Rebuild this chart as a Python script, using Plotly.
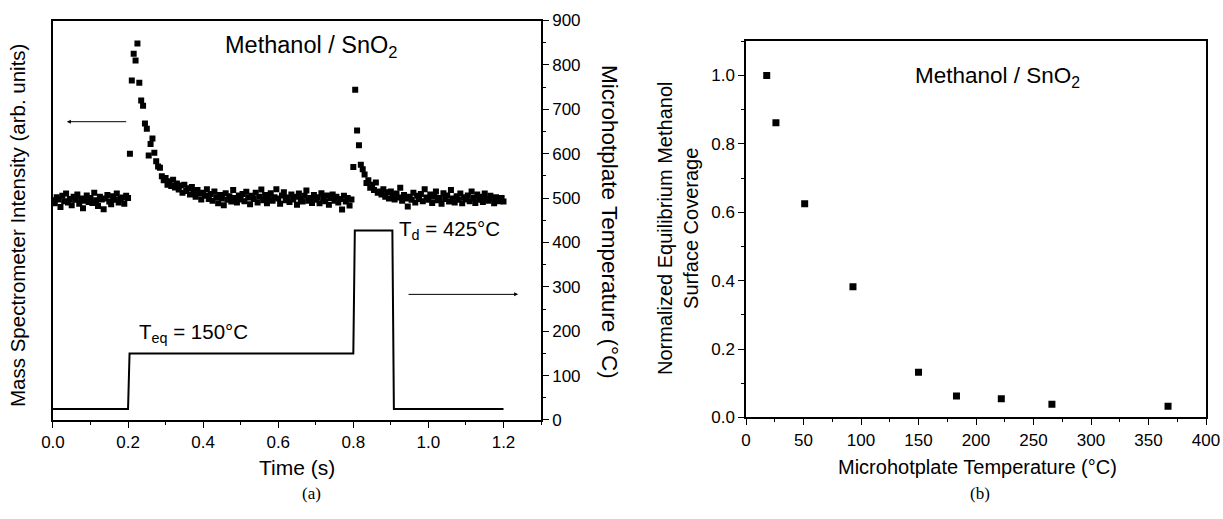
import numpy as np
import plotly.graph_objects as go

# --- (a) mass spectrometer signal, sampled every 5 ms from 0 to 1.2 s
t_step = 0.005
ms_signal = [
    495, 488, 502, 497, 480, 505, 493, 510, 490, 498, 484, 503, 496, 508, 487, 499, 477, 494, 506, 491,
    500, 489, 512, 495, 482, 503, 497, 475, 499, 507, 492, 486, 504, 496, 510, 490, 498, 501, 487, 505,
    500, 600, 765, 825, 810, 848, 760, 720, 708, 668, 656, 596, 622, 634, 602, 583, 571, 568, 549, 540,
    545, 530, 538, 527, 541, 524, 533, 519, 528, 512, 530, 516, 522, 508, 525, 514, 503, 518, 510, 497,
    512, 505, 520, 498, 509, 494, 515, 502, 488, 507, 499, 484, 511, 496, 504, 492, 518, 500, 490, 506,
    497, 509, 493, 514, 501, 486, 505, 498, 512, 490, 503, 519, 495, 507, 488, 500, 511, 494, 502, 520,
    499, 487, 506, 513, 495, 501, 491, 508, 497, 503, 485, 510, 498, 492, 505, 517, 494, 500, 489, 507,
    496, 502, 488, 511, 499, 493, 506, 485, 500, 508, 494, 503, 490, 498, 474, 505, 492, 500, 483, 497,
    570, 744, 652, 619, 575, 565, 553, 534, 540, 523, 530, 518, 535, 512, 515, 508, 520, 503, 513, 499,
    515, 506, 497, 510, 501, 523, 494, 507, 499, 481, 503, 496, 512, 490, 505, 498, 509, 493, 520, 501,
    496, 508, 489, 503, 515, 495, 500, 487, 511, 498, 506, 492, 518, 499, 490, 504, 496, 510, 488, 502,
    497, 506, 493, 515, 500, 489, 508, 496, 503, 491, 510, 498, 494, 505, 499, 488, 502, 496, 493, 500,
    492,
]
ms_time = np.round(np.arange(len(ms_signal)) * t_step, 3)

# --- (a) microhotplate temperature program
temp_time = [0.0, 0.200, 0.204, 0.800, 0.804, 0.904, 0.908, 1.2]
temp_value = [25, 25, 150, 150, 427, 427, 25, 25]

# --- (b) normalized equilibrium coverage vs temperature
cov_temp = [18, 26, 51, 93, 150, 183, 222, 266, 367]
cov_value = [1.0, 0.862, 0.625, 0.382, 0.132, 0.063, 0.055, 0.039, 0.033]

FONT = "Liberation Sans, Arial, sans-serif"
SERIF = "Liberation Serif, Times New Roman, serif"

fig = go.Figure()

fig.add_trace(go.Scatter(
    x=ms_time, y=ms_signal, mode="markers",
    marker=dict(symbol="square", size=6, color="black", line=dict(width=0)),
    xaxis="x", yaxis="y", showlegend=False,
))
fig.add_trace(go.Scatter(
    x=temp_time, y=temp_value, mode="lines",
    line=dict(color="black", width=2),
    xaxis="x", yaxis="y2", showlegend=False,
))
fig.add_trace(go.Scatter(
    x=cov_temp, y=cov_value, mode="markers",
    marker=dict(symbol="square", size=7, color="black", line=dict(width=0)),
    xaxis="x3", yaxis="y3", showlegend=False,
))

axis_common = dict(
    showline=True, linecolor="black", linewidth=1.5, showgrid=False, zeroline=False,
    ticks="outside", ticklen=6, tickwidth=1.2, tickcolor="black", automargin=False,
    tickfont=dict(family=FONT, size=17, color="black"),
)
minor_common = dict(ticks="outside", ticklen=3, tickwidth=1.2, tickcolor="black")

fig.update_layout(
    width=1223, height=519, autosize=False,
    margin=dict(l=0, r=0, t=0, b=0),
    paper_bgcolor="white", plot_bgcolor="white",
    font=dict(family=FONT, color="black"),
    xaxis=dict(axis_common, domain=[0.0433, 0.4424], range=[0, 1.3], dtick=0.2,
               tickformat=".1f", mirror=True, anchor="y",
               minor=dict(minor_common, dtick=0.1)),
    yaxis=dict(showline=True, linecolor="black", linewidth=1.5, showgrid=False,
               zeroline=False, showticklabels=False, ticks="", automargin=False,
               domain=[0.1908, 0.9605], range=[0, 900], anchor="x"),
    yaxis2=dict(axis_common, overlaying="y", side="right", anchor="x",
                range=[0, 900], dtick=100, minor=dict(minor_common, dtick=50)),
    xaxis3=dict(axis_common, domain=[0.61, 0.9861], range=[0, 400], dtick=50,
                mirror=True, anchor="y3", minor=dict(minor_common, dtick=25)),
    yaxis3=dict(axis_common, domain=[0.1956, 0.9204], range=[0, 1.1], dtick=0.2,
                tickformat=".1f", mirror=True, anchor="x3",
                minor=dict(minor_common, dtick=0.1)),
)

ann = [
    # axis titles, panel (a)
    dict(text="Mass Spectrometer Intensity (arb. units)", x=18, y=226, textangle=-90, size=20.5),
    dict(text="Microhotplate Temperature (°C)", x=610, y=222, textangle=90, size=22.5),
    dict(text="Time (s)", x=297, y=467, size=21),
    # axis titles, panel (b)
    dict(text="Normalized Equilibrium Methanol<br>Surface Coverage", x=678, y=229,
         textangle=-90, size=20),
    dict(text="Microhotplate Temperature (°C)", x=977, y=467, size=20),
    # in-plot labels
    dict(text="Methanol / SnO<sub>2</sub>", x=311, y=46, size=23.5),
    dict(text="Methanol / SnO<sub>2</sub>", x=997, y=77, size=22.5),
]
for a in ann:
    fig.add_annotation(
        text=a["text"], xref="paper", yref="paper",
        x=a["x"] / 1223, y=1 - a["y"] / 519, xanchor="center", yanchor="middle",
        textangle=a.get("textangle", 0), showarrow=False,
        font=dict(family=FONT, size=a["size"], color="black"),
    )

fig.add_annotation(text="T<sub>eq</sub> = 150°C", xref="x", yref="y2", x=0.224, y=196,
                   xanchor="left", yanchor="middle", showarrow=False,
                   font=dict(family=FONT, size=20.5, color="black"))
fig.add_annotation(text="T<sub>d</sub> = 425°C", xref="x", yref="y2", x=0.916, y=428,
                   xanchor="left", yanchor="middle", showarrow=False,
                   font=dict(family=FONT, size=20.5, color="black"))

# panel letters
for letter, xc in [("(a)", 311), ("(b)", 980)]:
    fig.add_annotation(text=letter, xref="paper", yref="paper", x=xc / 1223, y=1 - 493 / 519,
                       xanchor="center", yanchor="middle", showarrow=False,
                       font=dict(family=SERIF, size=17, color="black"))

# arrows pointing at the relevant axes
fig.add_annotation(x=0.037, y=672, ax=0.199, ay=672, xref="x", yref="y", axref="x", ayref="y",
                   text="", showarrow=True, arrowhead=2, arrowsize=0.8, arrowwidth=1,
                   arrowcolor="black")
fig.add_annotation(x=1.239, y=283, ax=0.943, ay=283, xref="x", yref="y2", axref="x", ayref="y2",
                   text="", showarrow=True, arrowhead=2, arrowsize=0.8, arrowwidth=1,
                   arrowcolor="black")

# the page's default 8px body margin would shift the whole figure
fig.write_html("out.html", config={"displayModeBar": False},
               post_script="document.body.style.margin='0';")
